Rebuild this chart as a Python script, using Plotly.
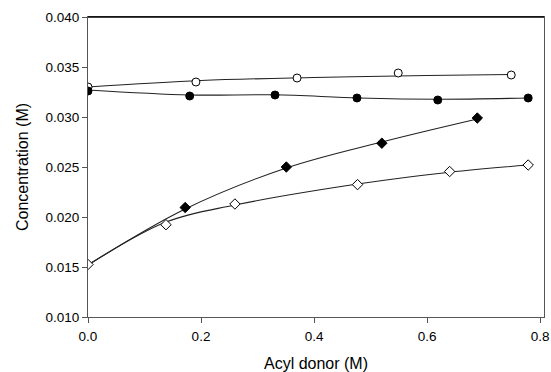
import plotly.graph_objects as go

# Measured points
x_open_circle = [0.0, 0.191, 0.370, 0.549, 0.749]
y_open_circle = [0.0330, 0.0335, 0.0339, 0.0344, 0.0342]

x_filled_circle = [0.0, 0.180, 0.331, 0.476, 0.619, 0.779]
y_filled_circle = [0.0326, 0.0321, 0.0322, 0.0319, 0.0317, 0.0319]

x_filled_diamond = [0.172, 0.351, 0.520, 0.689]
y_filled_diamond = [0.02095, 0.0250, 0.02738, 0.0299]

x_open_diamond = [0.0, 0.138, 0.260, 0.477, 0.640, 0.779]
y_open_diamond = [0.01525, 0.01923, 0.0213, 0.02324, 0.02455, 0.0252]

# Fitted curves
fx_open_circle = [0.0, 0.2, 0.4, 0.6, 0.75]
fy_open_circle = [0.0330, 0.03365, 0.03395, 0.03415, 0.03425]

fx_filled_circle = [0.0, 0.18, 0.33, 0.48, 0.62, 0.78]
fy_filled_circle = [0.0327, 0.0322, 0.03222, 0.0319, 0.03178, 0.0319]

fx_filled_diamond = [0.0, 0.172, 0.351, 0.520, 0.689]
fy_filled_diamond = [0.0152, 0.0208, 0.0249, 0.0275, 0.0298]

fx_open_diamond = [0.0, 0.138, 0.260, 0.477, 0.640, 0.779]
fy_open_diamond = [0.0152, 0.0195, 0.0212, 0.0233, 0.02448, 0.0252]

x_ticks = [0.0, 0.2, 0.4, 0.6, 0.8]
x_tick_labels = ["0.0", "0.2", "0.4", "0.6", "0.8"]
y_ticks = [0.010, 0.015, 0.020, 0.025, 0.030, 0.035, 0.040]
y_tick_labels = ["0.010", "0.015", "0.020", "0.025", "0.030", "0.035", "0.040"]

fig = go.Figure()

line_style = dict(color="#222", width=1.1, shape="spline", smoothing=1.0)
for fx, fy in [(fx_open_circle, fy_open_circle), (fx_filled_circle, fy_filled_circle),
               (fx_filled_diamond, fy_filled_diamond), (fx_open_diamond, fy_open_diamond)]:
    fig.add_trace(go.Scatter(x=fx, y=fy, mode="lines", line=line_style,
                             showlegend=False, hoverinfo="skip"))

fig.add_trace(go.Scatter(x=x_open_circle, y=y_open_circle, mode="markers",
                         marker=dict(symbol="circle", size=8, color="white",
                                     line=dict(color="black", width=1)), showlegend=False))
fig.add_trace(go.Scatter(x=x_filled_circle, y=y_filled_circle, mode="markers",
                         marker=dict(symbol="circle", size=8, color="black",
                                     line=dict(color="black", width=1)), showlegend=False))
fig.add_trace(go.Scatter(x=x_open_diamond, y=y_open_diamond, mode="markers",
                         marker=dict(symbol="diamond", size=8, color="white",
                                     line=dict(color="black", width=1)), showlegend=False))
fig.add_trace(go.Scatter(x=x_filled_diamond, y=y_filled_diamond, mode="markers",
                         marker=dict(symbol="diamond", size=8, color="black",
                                     line=dict(color="black", width=1)), showlegend=False))

axis_font = dict(family="Liberation Sans, Arial, sans-serif", size=13.5, color="black")
fig.update_layout(
    width=551, height=372,
    margin=dict(l=88, r=7, t=17, b=55),
    paper_bgcolor="white", plot_bgcolor="white",
    font=axis_font,
    xaxis=dict(range=[0, 0.807], tickvals=x_ticks, ticktext=x_tick_labels,
               showgrid=False, zeroline=False, showline=True, linecolor="#555",
               linewidth=1, mirror=True, ticks="outside", ticklen=5, tickcolor="#555",
               ticklabelstandoff=2, automargin=False,
               title=dict(text="Acyl donor (M)", font=dict(size=16), standoff=17)),
    yaxis=dict(range=[0.010, 0.040], tickvals=y_ticks, ticktext=y_tick_labels,
               showgrid=False, zeroline=False, showline=True, linecolor="#555",
               linewidth=1, mirror=True, ticks="outside", ticklen=5, tickcolor="#555",
               automargin=False,
               title=dict(text="Concentration (M)", font=dict(size=16), standoff=12)),
)
# darker top frame line as in the reference
fig.add_shape(type="line", xref="paper", yref="paper", x0=0, x1=1, y0=1, y1=1,
              line=dict(color="black", width=1.3))

fig.write_html("out.html")
